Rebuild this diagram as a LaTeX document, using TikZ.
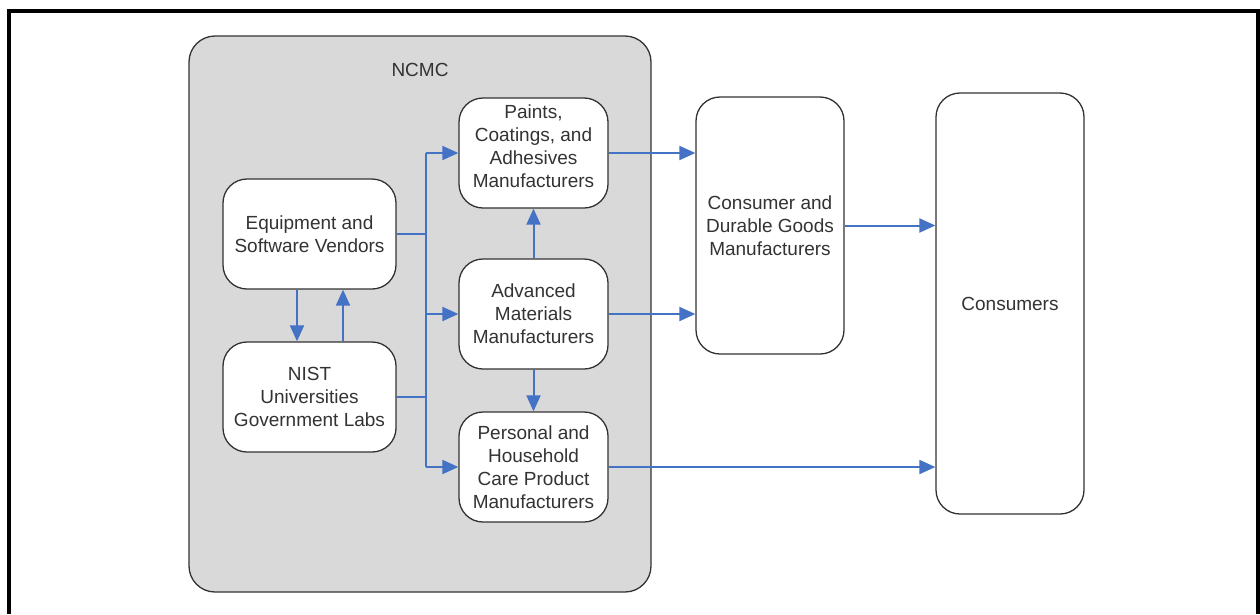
\documentclass[tikz,border=0pt]{standalone}
\usepackage{fontspec}
\setmainfont{Liberation Sans}
\usetikzlibrary{arrows.meta}
\definecolor{flowblue}{RGB}{68,114,196}
\definecolor{panelgray}{RGB}{217,217,217}
\definecolor{edgegray}{RGB}{50,50,50}
\tikzset{
  box/.style={draw=edgegray, line width=1.3pt, fill=white, rounded corners=24pt,
    align=center, inner sep=2pt, font=\fontsize{19}{23}\selectfont, text=black!80},
  panel/.style={draw=edgegray, line width=1.3pt, fill=panelgray, rounded corners=26pt},
  link/.style={draw=flowblue, line width=2pt},
  arr/.style={link, -{Triangle[length=16pt,width=14pt]}},
}
\begin{document}
\begin{tikzpicture}[x=1pt,y=-1pt]
\useasboundingbox (0,0) rectangle (1260,614);
\draw[line width=4pt] (9,614) -- (9,11) -- (1258,11) -- (1258,614);
\node[panel, minimum width=462pt, minimum height=556pt] (ncmc) at (420,314) {};
\node[font=\fontsize{19}{23}\selectfont, text=black!80] (ncmclabel) at (420,70) {NCMC};
\node[box, minimum width=173pt, minimum height=110pt] (eq) at (309.5,234) {Equipment and\\Software Vendors};
\node[box, minimum width=173pt, minimum height=110pt] (nist) at (309.5,397) {NIST\\Universities\\Government Labs};
\node[box, minimum width=149pt, minimum height=110pt] (paints) at (533.5,153) {Paints,\\Coatings, and\\Adhesives\\Manufacturers\rule[-14pt]{0pt}{0pt}};
\node[box, minimum width=149pt, minimum height=110pt] (adv) at (533.5,314) {Advanced\\Materials\\Manufacturers};
\node[box, minimum width=149pt, minimum height=110pt] (pers) at (533.5,467) {Personal and\\Household\\Care Product\\Manufacturers};
\node[box, minimum width=148pt, minimum height=257pt] (cdg) at (770,225.5) {Consumer and\\Durable Goods\\Manufacturers};
\node[box, minimum width=148pt, minimum height=421pt] (cons) at (1010,303.5) {Consumers};
\coordinate (bus) at (426,0);
\draw[link] (eq.east) -- (eq.east -| bus);
\draw[link] (nist.east) -- (nist.east -| bus);
\draw[link] (paints.west -| bus) -- (pers.west -| bus);
\draw[arr] (paints.west -| bus) -- (paints.west);
\draw[arr] (adv.west -| bus) -- (adv.west);
\draw[arr] (pers.west -| bus) -- (pers.west);
\draw[arr] ([xshift=-12.5pt]eq.south) -- ([xshift=-12.5pt]eq.south |- nist.north);
\draw[arr] ([xshift=33.5pt]nist.north) -- ([xshift=33.5pt]nist.north |- eq.south);
\draw[arr] (adv.north) -- (paints.south);
\draw[arr] (adv.south) -- (pers.north);
\draw[arr] (paints.east) -- (paints.east -| cdg.west);
\draw[arr] (adv.east) -- (adv.east -| cdg.west);
\draw[arr] (cdg.east) -- (cdg.east -| cons.west);
\draw[arr] (pers.east) -- (pers.east -| cons.west);
\end{tikzpicture}
\end{document}
